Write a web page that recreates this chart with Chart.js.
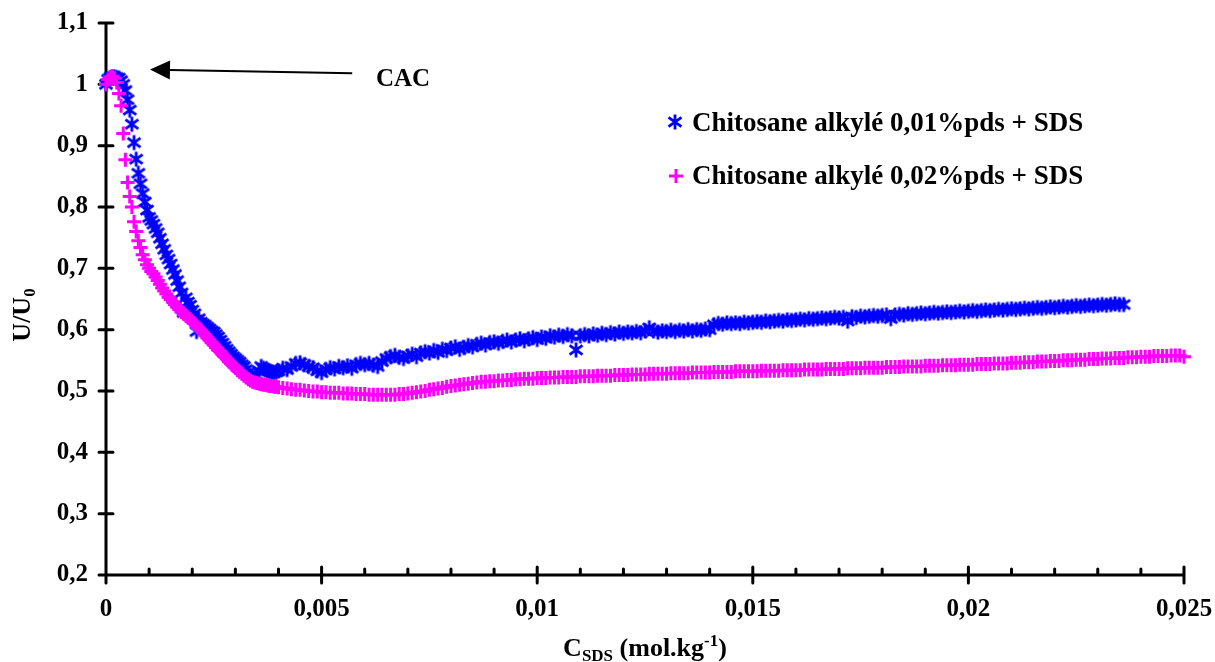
<!DOCTYPE html>
<html>
<head>
<meta charset="utf-8">
<script src="https://cdn.jsdelivr.net/npm/chart.js@4.4.1/dist/chart.umd.min.js"></script>
<style>
  html, body { margin: 0; background: #fff; }
  canvas { display: block; }
</style>
</head>
<body>
<canvas id="chart" width="1215" height="662"></canvas>
<script>
// C SDS (mol.kg-1), shared by both series
const cSds = [
  0, 0.00005, 0.0001, 0.00015, 0.0002, 0.00025, 0.0003, 0.00035, 0.0004, 0.00045,
  0.0005, 0.00055, 0.0006, 0.00065, 0.0007, 0.00075, 0.0008, 0.00085, 0.0009, 0.00095,
  0.0010, 0.00105, 0.0011, 0.00115, 0.0012, 0.00125, 0.0013, 0.00135, 0.0014, 0.00145,
  0.0015, 0.00155, 0.0016, 0.00165, 0.0017, 0.00175, 0.0018, 0.00185, 0.0019, 0.00195,
  0.0020, 0.00205, 0.0021, 0.00215, 0.0022, 0.00225, 0.0023, 0.00235, 0.0024, 0.00245,
  0.0025, 0.00255, 0.0026, 0.00265, 0.0027, 0.00275, 0.0028, 0.00285, 0.0029, 0.00295,
  0.0030, 0.00305, 0.0031, 0.00315, 0.0032, 0.00325, 0.0033, 0.00335, 0.0034, 0.00345,
  0.0035, 0.00355, 0.0036, 0.00365, 0.0037, 0.00375, 0.0038, 0.00385, 0.0039, 0.00395,
  0.0040, 0.0041, 0.0042, 0.0043, 0.0044, 0.0045, 0.0046, 0.0047, 0.0048, 0.0049,
  0.0050, 0.0051, 0.0052, 0.0053, 0.0054, 0.0055, 0.0056, 0.0057, 0.0058, 0.0059,
  0.0060, 0.0061, 0.0062, 0.0063, 0.0064, 0.0065, 0.0066, 0.0067, 0.0068, 0.0069,
  0.0070, 0.0071, 0.0072, 0.0073, 0.0074, 0.0075, 0.0076, 0.0077, 0.0078, 0.0079,
  0.0080, 0.0081, 0.0082, 0.0083, 0.0084, 0.0085, 0.0086, 0.0087, 0.0088, 0.0089,
  0.0090, 0.0091, 0.0092, 0.0093, 0.0094, 0.0095, 0.0096, 0.0097, 0.0098, 0.0099,
  0.0100, 0.0101, 0.0102, 0.0103, 0.0104, 0.0105, 0.0106, 0.0107, 0.0108, 0.0109,
  0.0110, 0.0111, 0.0112, 0.0113, 0.0114, 0.0115, 0.0116, 0.0117, 0.0118, 0.0119,
  0.0120, 0.0121, 0.0122, 0.0123, 0.0124, 0.0125, 0.0126, 0.0127, 0.0128, 0.0129,
  0.0130, 0.0131, 0.0132, 0.0133, 0.0134, 0.0135, 0.0136, 0.0137, 0.0138, 0.0139,
  0.0140, 0.0141, 0.0142, 0.0143, 0.0144, 0.0145, 0.0146, 0.0147, 0.0148, 0.0149,
  0.0150, 0.0151, 0.0152, 0.0153, 0.0154, 0.0155, 0.0156, 0.0157, 0.0158, 0.0159,
  0.0160, 0.0161, 0.0162, 0.0163, 0.0164, 0.0165, 0.0166, 0.0167, 0.0168, 0.0169,
  0.0170, 0.0171, 0.0172, 0.0173, 0.0174, 0.0175, 0.0176, 0.0177, 0.0178, 0.0179,
  0.0180, 0.0181, 0.0182, 0.0183, 0.0184, 0.0185, 0.0186, 0.0187, 0.0188, 0.0189,
  0.0190, 0.0191, 0.0192, 0.0193, 0.0194, 0.0195, 0.0196, 0.0197, 0.0198, 0.0199,
  0.0200, 0.0201, 0.0202, 0.0203, 0.0204, 0.0205, 0.0206, 0.0207, 0.0208, 0.0209,
  0.0210, 0.0211, 0.0212, 0.0213, 0.0214, 0.0215, 0.0216, 0.0217, 0.0218, 0.0219,
  0.0220, 0.0221, 0.0222, 0.0223, 0.0224, 0.0225, 0.0226, 0.0227, 0.0228, 0.0229,
  0.0230, 0.0231, 0.0232, 0.0233, 0.0234, 0.0235, 0.0236, 0.0237, 0.0238, 0.0239,
  0.0240, 0.0241, 0.0242, 0.0243, 0.0244, 0.0245, 0.0246, 0.0247, 0.0248, 0.0249,
  0.0250
];

// U/U0, chitosane alkylé 0,01%pds (stops at 0,0236)
const ratio001 = [
  1.000, 1.008, 1.011, 1.012, 1.012, 1.011, 1.010, 1.006, 1.000, 0.990,
  0.975, 0.958, 0.935, 0.905, 0.878, 0.855, 0.838, 0.822, 0.808, 0.795,
  0.783, 0.778, 0.772, 0.765, 0.758, 0.749, 0.740, 0.731, 0.722, 0.715,
  0.707, 0.698, 0.690, 0.680, 0.670, 0.660, 0.628, 0.652, 0.645, 0.640,
  0.632, 0.626, 0.597, 0.618, 0.612, 0.609, 0.607, 0.604, 0.601, 0.598,
  0.596, 0.592, 0.588, 0.583, 0.578, 0.573, 0.568, 0.564, 0.560, 0.556,
  0.553, 0.550, 0.547, 0.543, 0.540, 0.535, 0.530, 0.525, 0.520, 0.522,
  0.525, 0.533, 0.540, 0.537, 0.535, 0.533, 0.532, 0.531, 0.530, 0.531,
  0.533, 0.537, 0.535, 0.540, 0.545, 0.546, 0.543, 0.540, 0.538, 0.533,
  0.530, 0.535, 0.538, 0.536, 0.540, 0.538, 0.541, 0.537, 0.543, 0.545,
  0.543, 0.545, 0.542, 0.540, 0.548, 0.553, 0.556, 0.558, 0.555, 0.553,
  0.557, 0.560, 0.556, 0.562, 0.564, 0.562, 0.566, 0.563, 0.568, 0.566,
  0.570, 0.572, 0.568, 0.571, 0.574, 0.572, 0.576, 0.578, 0.575, 0.579,
  0.580, 0.578, 0.581, 0.583, 0.580, 0.583, 0.585, 0.582, 0.585, 0.587,
  0.584, 0.588, 0.586, 0.590, 0.588, 0.591, 0.589, 0.592, 0.590, 0.567,
  0.590, 0.592, 0.590, 0.593, 0.591, 0.594, 0.592, 0.595, 0.593, 0.596,
  0.594, 0.596, 0.595, 0.597, 0.595, 0.598, 0.603, 0.598, 0.596, 0.598,
  0.597, 0.599, 0.597, 0.599, 0.598, 0.600, 0.598, 0.600, 0.599, 0.601,
  0.600, 0.608, 0.610, 0.609, 0.611, 0.610, 0.611, 0.610, 0.612, 0.611,
  0.612, 0.613, 0.612, 0.614, 0.613, 0.614, 0.615, 0.614, 0.616, 0.615,
  0.616, 0.617, 0.616, 0.618, 0.617, 0.618, 0.619, 0.618, 0.619, 0.620,
  0.619, 0.620, 0.614, 0.621, 0.620, 0.622, 0.621, 0.622, 0.623, 0.622,
  0.623, 0.624, 0.618, 0.624, 0.625, 0.624, 0.626, 0.625, 0.626, 0.627,
  0.626, 0.627, 0.628, 0.627, 0.628, 0.629, 0.628, 0.629, 0.630, 0.629,
  0.630, 0.631, 0.630, 0.631, 0.632, 0.631, 0.632, 0.633, 0.632, 0.633,
  0.634, 0.633, 0.634, 0.635, 0.634, 0.635, 0.636, 0.635, 0.636, 0.637,
  0.636, 0.637, 0.638, 0.637, 0.638, 0.639, 0.638, 0.639, 0.640, 0.639,
  0.640, 0.641, 0.640, 0.641, 0.642, 0.641, 0.641
];

// U/U0, chitosane alkylé 0,02%pds
const ratio002 = [
  1.000, 1.008, 1.012, 1.013, 1.010, 1.003, 0.985, 0.965, 0.920, 0.877,
  0.840, 0.817, 0.800, 0.776, 0.760, 0.745, 0.734, 0.722, 0.714, 0.706,
  0.700, 0.695, 0.691, 0.686, 0.680, 0.674, 0.668, 0.663, 0.658, 0.653,
  0.649, 0.645, 0.641, 0.637, 0.633, 0.629, 0.626, 0.623, 0.620, 0.617,
  0.613, 0.610, 0.606, 0.602, 0.599, 0.595, 0.591, 0.587, 0.583, 0.579,
  0.575, 0.571, 0.567, 0.564, 0.560, 0.556, 0.552, 0.548, 0.545, 0.541,
  0.538, 0.534, 0.531, 0.528, 0.525, 0.522, 0.519, 0.517, 0.515, 0.514,
  0.513, 0.512, 0.511, 0.510, 0.510, 0.509, 0.508, 0.508, 0.507, 0.507,
  0.506, 0.505, 0.504, 0.503, 0.502, 0.502, 0.501, 0.500, 0.499, 0.499,
  0.498, 0.498, 0.497, 0.497, 0.497, 0.496, 0.496, 0.496, 0.495, 0.495,
  0.495, 0.494, 0.494, 0.494, 0.494, 0.494, 0.494, 0.494, 0.495, 0.495,
  0.496, 0.497, 0.498, 0.499, 0.500, 0.502, 0.503, 0.504, 0.505, 0.507,
  0.508, 0.509, 0.510, 0.511, 0.512, 0.513, 0.514, 0.515, 0.515, 0.516,
  0.516, 0.517, 0.517, 0.518, 0.518, 0.519, 0.519, 0.520, 0.520, 0.520,
  0.521, 0.521, 0.521, 0.522, 0.522, 0.522, 0.523, 0.523, 0.523, 0.523,
  0.524, 0.524, 0.524, 0.524, 0.525, 0.525, 0.525, 0.525, 0.526, 0.526,
  0.526, 0.526, 0.527, 0.527, 0.527, 0.527, 0.528, 0.528, 0.528, 0.528,
  0.528, 0.529, 0.529, 0.529, 0.529, 0.529, 0.530, 0.530, 0.530, 0.530,
  0.530, 0.531, 0.531, 0.531, 0.531, 0.531, 0.532, 0.532, 0.532, 0.532,
  0.532, 0.532, 0.533, 0.533, 0.533, 0.533, 0.533, 0.534, 0.534, 0.534,
  0.534, 0.534, 0.535, 0.535, 0.535, 0.535, 0.535, 0.536, 0.536, 0.536,
  0.536, 0.536, 0.537, 0.537, 0.537, 0.537, 0.538, 0.538, 0.538, 0.538,
  0.538, 0.539, 0.539, 0.539, 0.539, 0.540, 0.540, 0.540, 0.540, 0.540,
  0.541, 0.541, 0.541, 0.541, 0.542, 0.542, 0.542, 0.542, 0.543, 0.543,
  0.543, 0.543, 0.544, 0.544, 0.544, 0.544, 0.545, 0.545, 0.545, 0.545,
  0.546, 0.546, 0.546, 0.547, 0.547, 0.547, 0.548, 0.548, 0.548, 0.549,
  0.549, 0.549, 0.550, 0.550, 0.550, 0.551, 0.551, 0.551, 0.552, 0.552,
  0.552, 0.553, 0.553, 0.553, 0.554, 0.554, 0.554, 0.555, 0.555, 0.555,
  0.556, 0.556, 0.556, 0.557, 0.557, 0.557, 0.557, 0.558, 0.558, 0.558,
  0.556
];

const seriesNames = ['Chitosane alkylé 0,01%pds + SDS', 'Chitosane alkylé 0,02%pds + SDS'];
const xTicks = [0, 0.005, 0.01, 0.015, 0.02, 0.025];
const yTicks = [0.2, 0.3, 0.4, 0.5, 0.6, 0.7, 0.8, 0.9, 1.0, 1.1];

// CAC arrow, in data units
const cacArrow = { tipX: 0.00102, tipY: 1.024, tailX: 0.00571, tailY: 1.018 };
const cacLabel = { x: 0.00626, y: 1.008, text: 'CAC' };

const FONT = '"Liberation Serif", "Times New Roman", serif';
const BLUE = '#0000ff';
const PINK = '#ff00ff';

// Excel-like star marker: vertical bar plus an X
function makeAsterisk(size, color, lw) {
  const c = document.createElement('canvas');
  c.width = size; c.height = size;
  const g = c.getContext('2d');
  g.strokeStyle = color;
  g.lineWidth = lw;
  const m = size / 2, r = size / 2 - lw / 2;
  g.beginPath();
  g.moveTo(m, m - r); g.lineTo(m, m + r);
  const dx = r * 0.85, dy = r * 0.62;
  g.moveTo(m - dx, m - dy); g.lineTo(m + dx, m + dy);
  g.moveTo(m - dx, m + dy); g.lineTo(m + dx, m - dy);
  g.stroke();
  return c;
}
const asterisk = makeAsterisk(18, BLUE, 2.8);

const commaFmt = (v, d) => String(+Number(v).toFixed(d)).replace('.', ',');

function drawRich(ctx, parts, x, y) {
  // parts: [text, size, dy]
  let w = 0;
  parts.forEach(p => { ctx.font = 'bold ' + p[1] + 'px ' + FONT; w += ctx.measureText(p[0]).width; });
  let cx = x - w / 2;
  ctx.textAlign = 'left';
  ctx.textBaseline = 'alphabetic';
  parts.forEach(p => {
    ctx.font = 'bold ' + p[1] + 'px ' + FONT;
    ctx.fillText(p[0], cx, y + p[2]);
    cx += ctx.measureText(p[0]).width;
  });
}

const decor = {
  id: 'decor',
  beforeDatasetsDraw(chart) {
    const { ctx, chartArea: a, scales: { x, y } } = chart;
    ctx.save();
    ctx.strokeStyle = '#000';
    ctx.lineWidth = 3;
    ctx.lineCap = 'round';
    ctx.beginPath();
    ctx.moveTo(a.left, a.top); ctx.lineTo(a.left, a.bottom);
    ctx.moveTo(a.left, a.bottom); ctx.lineTo(a.right, a.bottom);
    // y ticks cross the axis
    yTicks.forEach(v => {
      const py = y.getPixelForValue(v);
      ctx.moveTo(a.left - 7, py); ctx.lineTo(a.left + 7, py);
    });
    // x major ticks cross, minor ticks inside
    for (let i = 0; i <= 25; i++) {
      const px = x.getPixelForValue(i / 1000);
      if (i % 5 === 0) { ctx.moveTo(px, a.bottom - 8); ctx.lineTo(px, a.bottom + 8); }
      else { ctx.moveTo(px, a.bottom - 6); ctx.lineTo(px, a.bottom); }
    }
    ctx.stroke();
    ctx.restore();
  },
  afterDatasetsDraw(chart) {
    const { ctx, scales: { x, y } } = chart;
    ctx.save();
    ctx.fillStyle = '#000';
    ctx.strokeStyle = '#000';

    // CAC arrow
    const tx = x.getPixelForValue(cacArrow.tipX), ty = y.getPixelForValue(cacArrow.tipY);
    const sx = x.getPixelForValue(cacArrow.tailX), sy = y.getPixelForValue(cacArrow.tailY);
    const ang = Math.atan2(sy - ty, sx - tx);
    const hl = 20, hw = 9.5;
    const bx = tx + hl * Math.cos(ang), by = ty + hl * Math.sin(ang);
    ctx.lineWidth = 2;
    ctx.beginPath(); ctx.moveTo(bx, by); ctx.lineTo(sx, sy); ctx.stroke();
    ctx.beginPath();
    ctx.moveTo(tx, ty);
    ctx.lineTo(bx - hw * Math.sin(ang), by + hw * Math.cos(ang));
    ctx.lineTo(bx + hw * Math.sin(ang), by - hw * Math.cos(ang));
    ctx.closePath(); ctx.fill();

    ctx.font = 'bold 25px ' + FONT;
    ctx.textAlign = 'left'; ctx.textBaseline = 'middle';
    ctx.fillText(cacLabel.text, x.getPixelForValue(cacLabel.x), y.getPixelForValue(cacLabel.y));

    // legend
    ctx.font = 'bold 27px ' + FONT;
    ctx.textBaseline = 'alphabetic';
    ctx.drawImage(asterisk, 675 - 9, 122 - 9);
    ctx.fillText(seriesNames[0], 692, 131);
    ctx.strokeStyle = PINK; ctx.lineWidth = 3;
    ctx.beginPath();
    ctx.moveTo(669, 176); ctx.lineTo(683, 176);
    ctx.moveTo(676, 169); ctx.lineTo(676, 183);
    ctx.stroke();
    ctx.fillText(seriesNames[1], 692, 184);

    // axis titles
    drawRich(ctx, [['C', 26, 0], ['SDS', 17, 5], [' (mol.kg', 26, 0], ['-1', 17, -10], [')', 26, 0]], 645, 656);
    ctx.translate(30, 315);
    ctx.rotate(-Math.PI / 2);
    drawRich(ctx, [['U/U', 26, 0], ['0', 17, 5]], 0, 0);
    ctx.restore();
  }
};

const tickFont = { family: FONT, size: 25, weight: 'bold' };

new Chart(document.getElementById('chart'), {
  type: 'scatter',
  data: {
    datasets: [
      {
        label: seriesNames[0],
        data: ratio001.map((v, i) => ({ x: cSds[i], y: v })),
        pointStyle: asterisk,
        pointRadius: 9,
        showLine: false,
        clip: false,
        order: 1
      },
      {
        label: seriesNames[1],
        data: ratio002.map((v, i) => ({ x: cSds[i], y: v })),
        pointStyle: 'cross',
        pointRadius: 7,
        pointBorderWidth: 3,
        borderColor: PINK,
        backgroundColor: PINK,
        showLine: false,
        clip: false,
        order: 0
      }
    ]
  },
  options: {
    responsive: false,
    devicePixelRatio: 1,
    animation: false,
    events: [],
    layout: { padding: { top: 23, right: 31, left: 0, bottom: 0 } },
    plugins: { legend: { display: false }, tooltip: { enabled: false } },
    scales: {
      x: {
        type: 'linear',
        min: 0, max: 0.025,
        afterFit: s => { s.height = 87; s.paddingLeft = 0; s.paddingRight = 0; },
        afterBuildTicks: s => { s.ticks = xTicks.map(v => ({ value: v })); },
        grid: { display: false, drawTicks: false },
        border: { display: false },
        ticks: {
          font: tickFont, color: '#000', padding: 20,
          maxRotation: 0, autoSkip: false,
          callback: v => commaFmt(v, 3)
        }
      },
      y: {
        type: 'linear',
        min: 0.2, max: 1.1,
        afterFit: s => { s.width = 106; s.paddingTop = 0; s.paddingBottom = 0; },
        afterBuildTicks: s => { s.ticks = yTicks.map(v => ({ value: v })); },
        grid: { display: false, drawTicks: false },
        border: { display: false },
        ticks: {
          font: tickFont, color: '#000', padding: 18,
          callback: v => commaFmt(v, 1)
        }
      }
    }
  },
  plugins: [decor]
});
</script>
</body>
</html>
